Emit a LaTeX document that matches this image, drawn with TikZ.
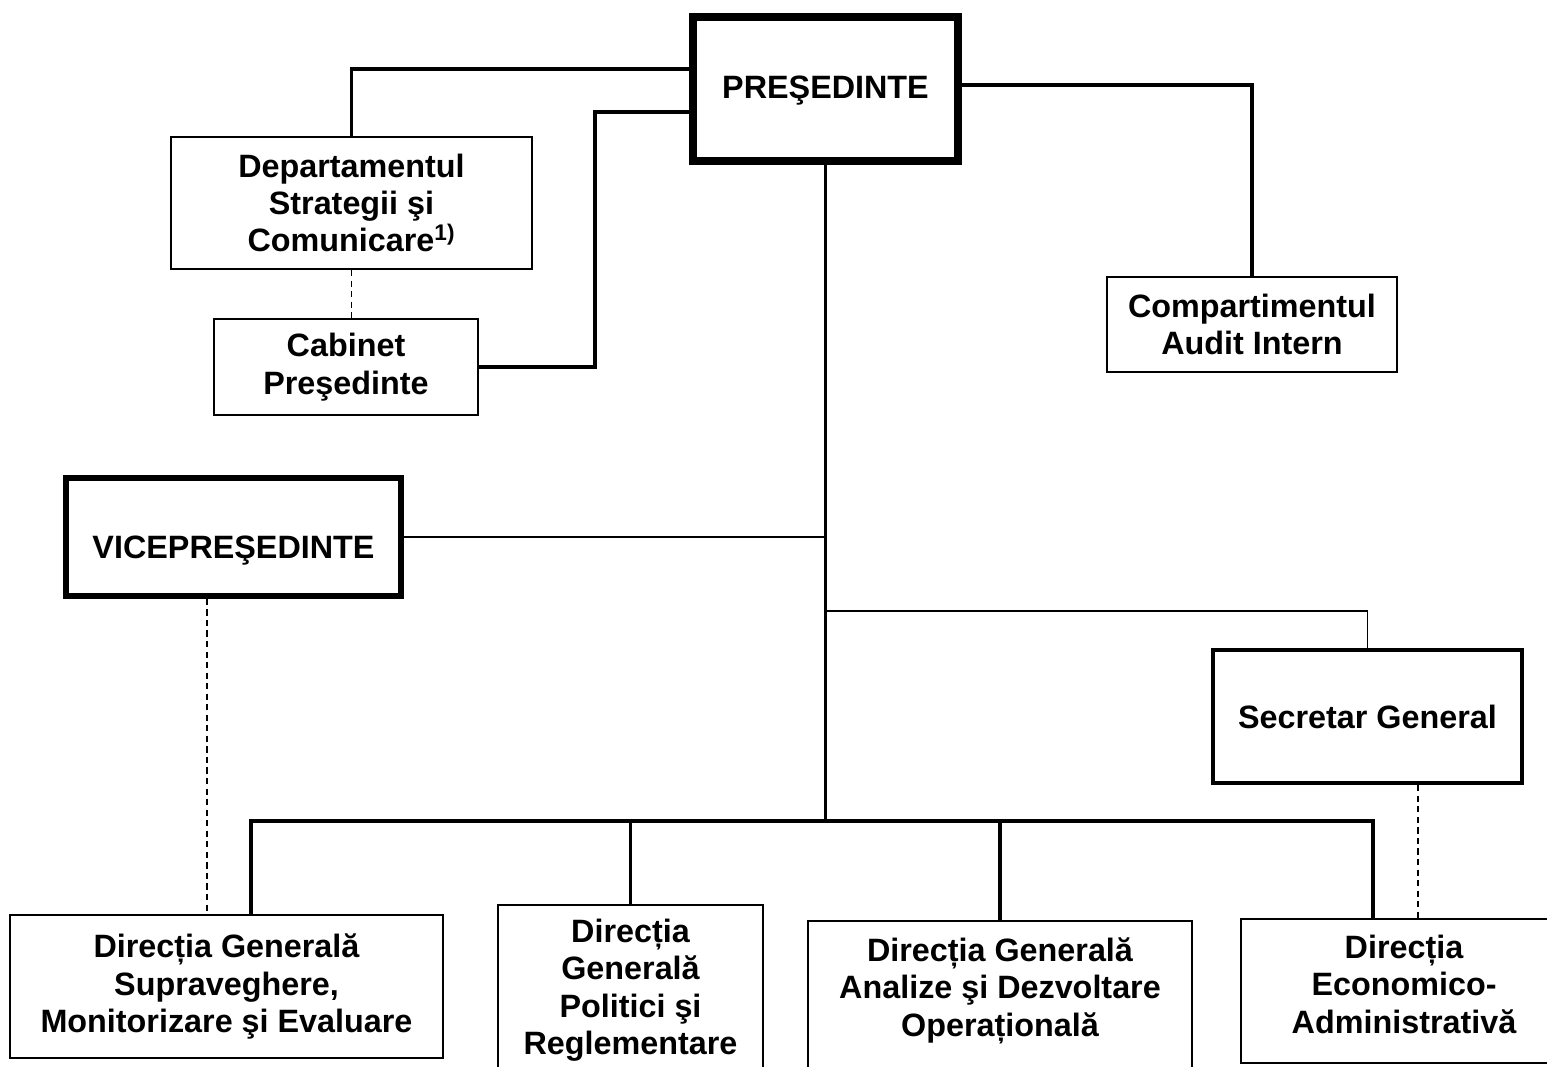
\documentclass[tikz,border=0pt]{standalone}
\usepackage{fontspec}
\setmainfont{Liberation Sans}

\begin{document}
\begin{tikzpicture}[x=0.02cm,y=-0.02cm,
    box/.style={draw,line width=1.1pt,align=center,inner sep=0pt,
      font=\bfseries\fontsize{18.4}{21.3}\selectfont},
    chief/.style={box,line width=4.4pt},
    link/.style={line width=2pt},
    thinlink/.style={line width=0.8pt},
    dashlink/.style={line width=0.8pt,dash pattern=on 3.5pt off 2.5pt}]
      \useasboundingbox (0,0) rectangle (1547,1066);
      \clip (0,0) rectangle (1547,1066);

      %% Presedinte and his own units
      \node[chief, minimum width=5.30cm, minimum height=2.88cm] (pres)  at (825.5,89)   {\rule{0pt}{0.52cm}PREŞEDINTE};
      \node[box,   minimum width=7.22cm, minimum height=2.64cm] (strat) at (351.5,203)  {Departamentul\\Strategii şi\\Comunicare\textsuperscript{1)}};
      \node[box,   minimum width=5.28cm, minimum height=1.92cm] (cab)   at (346,367)    {Cabinet\\Preşedinte};
      \node[box,   minimum width=5.80cm, minimum height=1.90cm] (audit) at (1252,324.5) {Compartimentul\\Audit Intern};

      \draw[link] ([yshift=0.4cm]pres.west) -| (strat.north);
      \draw[link] ([yshift=-0.46cm]pres.west) -| ([xshift=2.32cm]cab.east) -- (cab.east);
      \draw[link] ([yshift=0.08cm]pres.east) -| (audit.north);
      \draw[dashlink] (strat.south) -- (strat.south |- cab.north);

      %%%%%%%%%%%%%%%%%%%%%%%%%%%%%%%%%%%%%%%%%%%%%%%%%%%%%%%%%%%
      %% Vicepresedinte and Secretar General
      %%%%%%%%%%%%%%%%%%%%%%%%%%%%%%%%%%%%%%%%%%%%%%%%%%%%%%%%%%%
      \node[chief, line width=3.2pt, minimum width=6.70cm, minimum height=2.36cm] (vice) at (233.5,537)  {\rule{0pt}{1cm}VICEPREŞEDINTE};
      \node[chief, line width=2.5pt, minimum width=6.18cm, minimum height=2.66cm] (secg) at (1367.5,716.5) {Secretar General};

      \coordinate (sgjoin) at ([yshift=0.74cm]secg.north);
      \coordinate (bus)    at (825.5,821);

      \draw[link]     (pres.south) -- (bus);
      \draw[thinlink] (vice.east) -- (vice.east -| pres.south);
      \draw[thinlink] (sgjoin -| pres.south) -| (secg.north);

      %%%%%%%%%%%%%%%%%%%%%%%%%%%%%%%%%%%%%%%%%%%%%%%%%%%%%%%%%%
      %% Directions
      \node[box, minimum width=8.66cm, minimum height=2.86cm] (dgsme) at (226.5,986.5) {Direcția Generală\\Supraveghere,\\Monitorizare şi Evaluare};
      \node[box, minimum width=5.30cm, minimum height=3.40cm] (dgpr)  at (630.5,990)   {Direcția\\Generală\\Politici şi\\Reglementare};
      \node[box, minimum width=7.68cm, minimum height=3.28cm] (dgado) at (1000,1003)   {Direcția Generală\\Analize şi Dezvoltare\\Operațională\rule[-0.64cm]{0pt}{0pt}};
      \node[box, minimum width=6.52cm, minimum height=2.88cm] (dea)   at (1404,991)    {Direcția\\Economico-\\Administrativă\rule[-0.28cm]{0pt}{0pt}};

      \draw[link] ([xshift=0.49cm]dgsme.north) |- (bus) -| ([xshift=-0.62cm]dea.north);
      \draw[link] (dgpr.north |- bus)  -- (dgpr.north);
      \draw[link] (dgado.north |- bus) -- (dgado.north);

      \draw[dashlink] ([xshift=-0.53cm]vice.south) -- ([xshift=-0.53cm]vice.south |- dgsme.north);
      \draw[dashlink] ([xshift=1.01cm]secg.south) -- ([xshift=1.01cm]secg.south |- dea.north);
\end{tikzpicture}
\end{document}
